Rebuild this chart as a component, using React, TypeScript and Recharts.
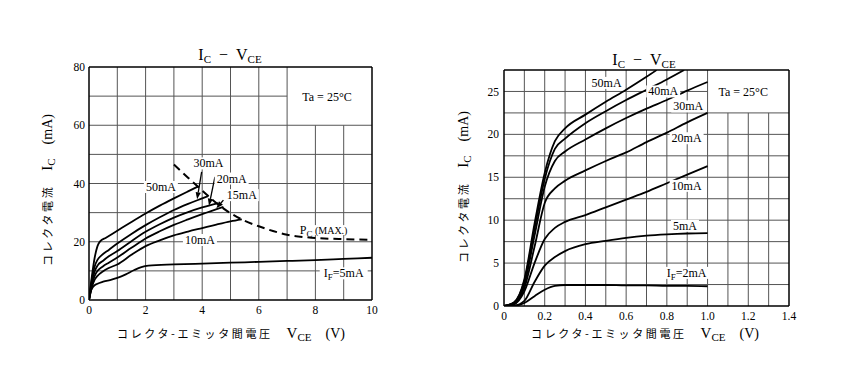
import React from 'react';
import { LineChart, Line, XAxis, YAxis, ReferenceLine, ReferenceDot } from 'recharts';

// ---- left panel: IC vs VCE, 0..10 V ----
const lVce50 = [0, 0.1, 0.2, 0.3, 0.4, 0.6, 1, 1.5, 2, 2.5, 3, 3.5, 3.86];
const lIc50 = [0, 8, 14.5, 18.5, 20.2, 21.4, 23.8, 26.8, 29.7, 32.4, 34.9, 37.3, 39];
const lVce30 = [0, 0.1, 0.2, 0.3, 0.45, 0.7, 1, 1.5, 2, 2.5, 3, 3.5, 4, 4.21];
const lIc30 = [0, 7, 11.5, 13.8, 15.4, 17.2, 19.4, 22.7, 25.7, 28.4, 30.9, 33, 34.9, 35.7];
const lVce20 = [0, 0.1, 0.2, 0.3, 0.5, 0.7, 1, 1.5, 2, 2.5, 3, 3.5, 4, 4.57];
const lIc20 = [0, 6, 9.8, 11.8, 13.5, 15, 16.8, 20.2, 23.4, 26, 28.3, 30.2, 31.8, 33.3];
const lVce15 = [0, 0.1, 0.2, 0.3, 0.5, 0.7, 1, 1.5, 2, 2.5, 3, 3.5, 4, 4.75];
const lIc15 = [0, 5.2, 8.3, 10, 11.6, 12.8, 14.6, 17.9, 21.1, 23.6, 25.8, 27.7, 29.5, 32];
const lVce10 = [0, 0.1, 0.2, 0.3, 0.5, 0.7, 1, 1.5, 2, 2.5, 3, 3.5, 4, 4.5, 5, 5.4];
const lIc10 = [0, 4.3, 7, 8.3, 9.9, 11, 12.2, 15.5, 18.5, 20.5, 22.2, 23.5, 24.7, 25.9, 27, 27.7];
const lVce5 = [0, 0.05, 0.15, 0.3, 0.5, 0.8, 1, 1.3, 1.6, 1.85, 2.1, 3, 4, 5, 6, 7, 8, 9, 10];
const lIc5 = [0, 2.5, 4.6, 5.6, 6.3, 7, 7.6, 8.8, 10.3, 11.3, 11.8, 12.2, 12.5, 12.8, 13.1, 13.4, 13.7, 14.1, 14.5];
const pcVce = [3, 3.5, 4, 4.5, 5, 5.5, 6, 6.5, 7, 8, 9, 10];
const pcIc = [46.5, 42, 37.6, 33.3, 29.8, 27.2, 25.3, 23.7, 22.4, 21.3, 20.9, 20.7];
const lTicksX = [0, 2, 4, 6, 8, 10];
const lTicksY = [0, 20, 40, 60, 80];
const lGridX = [1, 2, 3, 4, 5, 6, 7, 8, 9];
const lGridY = [10, 20, 30, 40, 50, 60, 70];

// ---- right panel: IC vs VCE, 0..1.4 V ----
const rVce = [0, 0.05, 0.1, 0.15, 0.2, 0.25, 0.3, 0.4, 0.5, 0.6, 0.7, 0.8, 0.9, 1.0];
const rIc2 = [0, 0.02, 0.35, 1.15, 1.9, 2.35, 2.45, 2.45, 2.45, 2.4, 2.4, 2.35, 2.35, 2.3];
const rIc5 = [0, 0.05, 0.6, 2.8, 4.7, 5.7, 6.4, 7.2, 7.6, 7.95, 8.2, 8.35, 8.45, 8.5];
const rIc10 = [0, 0.2, 1.7, 5.0, 7.8, 9.1, 9.8, 10.6, 11.5, 12.4, 13.3, 14.3, 15.3, 16.3];
const rIc20 = [0, 0.3, 2.1, 6.9, 12.0, 13.7, 14.6, 15.8, 16.9, 17.9, 19.1, 20.2, 21.4, 22.5];
const rIc30 = [0, 0.35, 2.5, 8.2, 13.9, 16.9, 18.0, 19.4, 20.7, 21.9, 23.0, 24.0, 25.1, 26.1];
const rVce40 = [0, 0.05, 0.1, 0.15, 0.2, 0.25, 0.3, 0.4, 0.5, 0.6, 0.7, 0.8, 0.885];
const rIc40 = [0, 0.4, 2.9, 9.0, 14.8, 18.3, 19.5, 21.3, 22.7, 24.0, 25.2, 26.4, 27.5];
const rVce50 = [0, 0.05, 0.1, 0.15, 0.2, 0.25, 0.3, 0.4, 0.5, 0.6, 0.7, 0.75];
const rIc50 = [0, 0.45, 3.1, 9.6, 15.5, 19.2, 20.7, 22.3, 23.8, 25.2, 26.7, 27.5];
const rTicksX = [0, 0.2, 0.4, 0.6, 0.8, 1.0, 1.2, 1.4];
const rTicksY = [0, 5, 10, 15, 20, 25];
const rGridX = [0.1, 0.2, 0.3, 0.4, 0.5, 0.6, 0.7, 0.8, 0.9, 1.0, 1.1, 1.2, 1.3];
const rGridY = [2.5, 5, 7.5, 10, 12.5, 15, 17.5, 20, 22.5, 25];

const SERIF = '"Liberation Serif", "DejaVu Serif", serif';
const JP = '"Noto Sans CJK JP", sans-serif';
const GRID = '#555';

const pts = (v: number[], i: number[]) => v.map((x, k) => ({ v: x, i: i[k] }));

const Tag = ({ viewBox, w = 30, h = 12, bg = true, children }: any) => {
  const cx = viewBox.x + viewBox.width / 2;
  const cy = viewBox.y + viewBox.height / 2;
  return (
    <g>
      {bg && <rect x={cx - w / 2 - 2} y={cy - h / 2} width={w + 4} height={h} fill="#fff" />}
      <text x={cx} y={cy + 4} textAnchor="middle" fontFamily={SERIF} fontSize={12} fill="#000">
        {children}
      </text>
    </g>
  );
};

const arrowShape = (p: any) => {
  const { x1, y1, x2, y2 } = p;
  const a = Math.atan2(y2 - y1, x2 - x1);
  const L = 7;
  const W = 2.6;
  const bx = x2 - L * Math.cos(a);
  const by = y2 - L * Math.sin(a);
  const head = `${x2},${y2} ${bx + W * Math.sin(a)},${by - W * Math.cos(a)} ${bx - W * Math.sin(a)},${by + W * Math.cos(a)}`;
  return (
    <g>
      <line x1={x1} y1={y1} x2={bx} y2={by} stroke="#000" strokeWidth={1.3} />
      <polygon points={head} fill="#000" />
    </g>
  );
};

const Sub = ({ children, size = 10 }: any) => (
  <span style={{ fontSize: size, position: 'relative', top: 3 }}>{children}</span>
);

const Title = ({ cx, cy }: { cx: number; cy: number }) => (
  <div style={{ position: 'absolute', left: cx, top: cy, transform: 'translate(-50%,-50%)', fontFamily: SERIF, fontSize: 16, whiteSpace: 'nowrap' }}>
    I<Sub size={11}>C</Sub>&nbsp;&nbsp;−&nbsp;&nbsp;V<Sub size={11}>CE</Sub>
  </div>
);

const XTitle = ({ cx, cy }: { cx: number; cy: number }) => (
  <div style={{ position: 'absolute', left: cx, top: cy, transform: 'translate(-50%,-50%)', whiteSpace: 'nowrap', display: 'flex', alignItems: 'baseline' }}>
    <span style={{ fontFamily: JP, fontSize: 11, letterSpacing: 2.6 }}>コレクタ-エミッタ間電圧</span>
    <span style={{ fontFamily: SERIF, fontSize: 15, marginLeft: 14 }}>V<Sub size={11}>CE</Sub></span>
    <span style={{ fontFamily: SERIF, fontSize: 14, marginLeft: 14 }}>(V)</span>
  </div>
);

const YTitle = ({ cx, cy }: { cx: number; cy: number }) => (
  <div style={{ position: 'absolute', left: cx, top: cy, transform: 'translate(-50%,-50%) rotate(-90deg)', whiteSpace: 'nowrap', display: 'flex', alignItems: 'baseline' }}>
    <span style={{ fontFamily: JP, fontSize: 11, letterSpacing: 2.6 }}>コレクタ電流</span>
    <span style={{ fontFamily: SERIF, fontSize: 15, marginLeft: 14 }}>I<Sub size={11}>C</Sub></span>
    <span style={{ fontFamily: SERIF, fontSize: 14, marginLeft: 14 }}>(mA)</span>
  </div>
);

const tickStyle = { fontFamily: SERIF, fontSize: 11.5, fill: '#000' };

const curve = (key: string, data: any[], dash?: string) => (
  <Line
    key={key}
    data={data}
    dataKey="i"
    type="monotone"
    stroke="#000"
    strokeWidth={dash ? 2 : 1.8}
    strokeDasharray={dash}
    dot={false}
    activeDot={false}
    isAnimationActive={false}
  />
);

function LeftChart() {
  return (
    <LineChart width={400} height={340} margin={{ top: 67, right: 28, bottom: 10, left: 49 }}>
      <XAxis type="number" dataKey="v" domain={[0, 10]} ticks={lTicksX} tickSize={0} tickMargin={6} axisLine={false} tick={tickStyle} height={30} allowDataOverflow />
      <YAxis type="number" domain={[0, 80]} ticks={lTicksY} tickSize={0} tickMargin={4} axisLine={false} tick={tickStyle} width={40} allowDataOverflow />
      {lGridX.map((x) => (
        <ReferenceLine key={`gx${x}`} segment={[{ x, y: 0 }, { x, y: x > 7 ? 60 : 80 }]} stroke={GRID} strokeWidth={1} />
      ))}
      {lGridY.map((y) => (
        <ReferenceLine key={`gy${y}`} segment={[{ x: 0, y }, { x: y > 60 ? 7 : 10, y }]} stroke={GRID} strokeWidth={1} />
      ))}
      <ReferenceLine x={0} stroke="#000" strokeWidth={1.5} />
      <ReferenceLine x={10} stroke="#000" strokeWidth={1.5} />
      <ReferenceLine y={0} stroke="#000" strokeWidth={1.5} />
      <ReferenceLine y={80} stroke="#000" strokeWidth={1.5} />
      {curve('i5', pts(lVce5, lIc5))}
      {curve('i10', pts(lVce10, lIc10))}
      {curve('i15', pts(lVce15, lIc15))}
      {curve('i20', pts(lVce20, lIc20))}
      {curve('i30', pts(lVce30, lIc30))}
      {curve('i50', pts(lVce50, lIc50))}
      {curve('pc', pts(pcVce, pcIc), '8 5')}
      <ReferenceLine segment={[{ x: 3.98, y: 44 }, { x: 3.82, y: 34.6 }]} shape={arrowShape} />
      <ReferenceLine segment={[{ x: 4.45, y: 42.3 }, { x: 4.24, y: 32.4 }]} shape={arrowShape} />
      <ReferenceLine segment={[{ x: 4.75, y: 34.3 }, { x: 4.5, y: 31.5 }]} shape={arrowShape} />
      <ReferenceDot x={2.54} y={38.8} r={0} label={<Tag w={30}>50mA</Tag>} />
      <ReferenceDot x={4.22} y={46.9} r={0} label={<Tag w={30}>30mA</Tag>} />
      <ReferenceDot x={5.04} y={41.7} r={0} label={<Tag w={30}>20mA</Tag>} />
      <ReferenceDot x={5.4} y={36} r={0} label={<Tag w={30}>15mA</Tag>} />
      <ReferenceDot x={3.92} y={20.6} r={0} label={<Tag w={30}>10mA</Tag>} />
      <ReferenceDot x={9.0} y={9.15} r={0} label={<Tag w={44}>I<tspan fontSize={9} dy={3}>F</tspan><tspan dy={-3}>=5mA</tspan></Tag>} />
      <ReferenceDot x={8.29} y={24} r={0} label={<Tag w={52} h={10}>P<tspan fontSize={9} dy={3}>C</tspan><tspan dy={-3} fontSize={10}> (MAX.)</tspan></Tag>} />
      <ReferenceDot x={8.41} y={69.7} r={0} label={<Tag w={46}>Ta = 25°C</Tag>} />
    </LineChart>
  );
}

function RightChart() {
  return (
    <LineChart width={400} height={340} margin={{ top: 70, right: 41, bottom: 4, left: 34 }}>
      <XAxis type="number" dataKey="v" domain={[0, 1.4]} ticks={rTicksX} tickFormatter={(v: number) => (v === 0 ? '0' : v.toFixed(1))} tickSize={0} tickMargin={6} axisLine={false} tick={tickStyle} height={30} allowDataOverflow />
      <YAxis type="number" domain={[0, 27.5]} ticks={rTicksY} tickSize={0} tickMargin={5} axisLine={false} tick={tickStyle} width={40} allowDataOverflow />
      {rGridX.map((x) => (
        <ReferenceLine key={`gx${x}`} segment={[{ x, y: 0 }, { x, y: x > 1.0 ? 22.5 : 27.5 }]} stroke={GRID} strokeWidth={1} />
      ))}
      {rGridY.map((y) => (
        <ReferenceLine key={`gy${y}`} segment={[{ x: 0, y }, { x: y > 22.5 ? 1.0 : 1.4, y }]} stroke={GRID} strokeWidth={1} />
      ))}
      <ReferenceLine x={0} stroke="#000" strokeWidth={1.5} />
      <ReferenceLine x={1.4} stroke="#000" strokeWidth={1.5} />
      <ReferenceLine y={0} stroke="#000" strokeWidth={1.5} />
      <ReferenceLine y={27.5} stroke="#000" strokeWidth={1.5} />
      {curve('i2', pts(rVce, rIc2))}
      {curve('i5', pts(rVce, rIc5))}
      {curve('i10', pts(rVce, rIc10))}
      {curve('i20', pts(rVce, rIc20))}
      {curve('i30', pts(rVce, rIc30))}
      {curve('i40', pts(rVce40, rIc40))}
      {curve('i50', pts(rVce50, rIc50))}
      <ReferenceDot x={0.504} y={26.0} r={0} label={<Tag w={30}>50mA</Tag>} />
      <ReferenceDot x={0.782} y={25.0} r={0} label={<Tag w={30}>40mA</Tag>} />
      <ReferenceDot x={0.905} y={23.25} r={0} label={<Tag w={30}>30mA</Tag>} />
      <ReferenceDot x={0.897} y={19.55} r={0} label={<Tag w={30}>20mA</Tag>} />
      <ReferenceDot x={0.897} y={14.0} r={0} label={<Tag w={30}>10mA</Tag>} />
      <ReferenceDot x={0.889} y={9.35} r={0} label={<Tag w={24}>5mA</Tag>} />
      <ReferenceDot x={0.897} y={3.86} r={0} label={<Tag w={44}>I<tspan fontSize={9} dy={3}>F</tspan><tspan dy={-3}>=2mA</tspan></Tag>} />
      <ReferenceDot x={1.175} y={24.9} r={0} label={<Tag w={46}>Ta = 25°C</Tag>} />
    </LineChart>
  );
}

export default function App() {
  return (
    <div style={{ position: 'absolute', left: 0, top: 0, width: 852, height: 390, background: '#fff', overflow: 'hidden' }}>
      <div style={{ position: 'absolute', left: 0, top: 0 }}>
        <LeftChart />
      </div>
      <div style={{ position: 'absolute', left: 430, top: 0 }}>
        <RightChart />
      </div>
      <Title cx={230} cy={55} />
      <Title cx={644} cy={60} />
      <XTitle cx={231} cy={333} />
      <XTitle cx={645} cy={333} />
      <YTitle cx={47} cy={190} />
      <YTitle cx={463} cy={187} />
    </div>
  );
}
